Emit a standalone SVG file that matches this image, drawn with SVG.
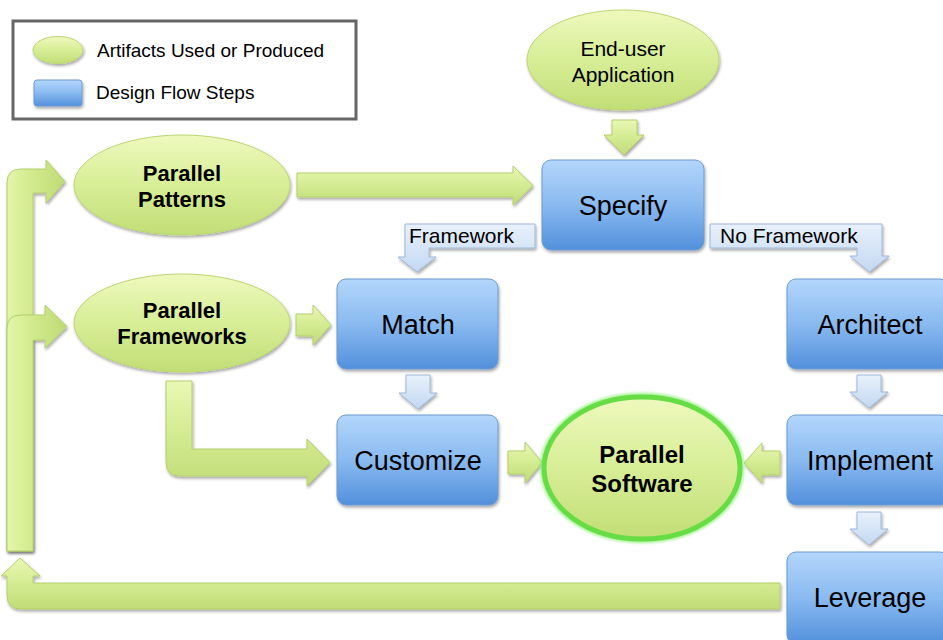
<svg xmlns="http://www.w3.org/2000/svg" width="943" height="640" viewBox="0 0 943 640">
  <defs>
    <linearGradient id="gBlue" x1="0" y1="0" x2="0" y2="1">
      <stop offset="0" stop-color="#b3d6fb"/>
      <stop offset="0.5" stop-color="#89baf0"/>
      <stop offset="1" stop-color="#5290dc"/>
    </linearGradient>
    <linearGradient id="gLightBlue" x1="0" y1="0" x2="0" y2="1">
      <stop offset="0" stop-color="#e8f1fc"/>
      <stop offset="1" stop-color="#c3d8f1"/>
    </linearGradient>
    <linearGradient id="gGreen" x1="0" y1="0" x2="0" y2="1">
      <stop offset="0" stop-color="#eef9bd"/>
      <stop offset="0.45" stop-color="#d9ef9a"/>
      <stop offset="1" stop-color="#c2de76"/>
    </linearGradient>
    <linearGradient id="gArrowH" x1="0" y1="0" x2="0" y2="1">
      <stop offset="0" stop-color="#eaf8b4"/>
      <stop offset="0.5" stop-color="#d3eb91"/>
      <stop offset="1" stop-color="#c1dc77"/>
    </linearGradient>
    <linearGradient id="gArrowV" x1="0" y1="0" x2="1" y2="0">
      <stop offset="0" stop-color="#e4f5a9"/>
      <stop offset="0.5" stop-color="#cfe88a"/>
      <stop offset="1" stop-color="#bfdb74"/>
    </linearGradient>
    <filter id="shadow" x="-10%" y="-10%" width="130%" height="130%">
      <feDropShadow dx="1" dy="2" stdDeviation="1.6" flood-color="#000" flood-opacity="0.35"/>
    </filter>
    <filter id="glow" x="-10%" y="-10%" width="120%" height="120%">
      <feGaussianBlur stdDeviation="1.2"/>
    </filter>
  </defs>
  <style>
    .box { fill: url(#gBlue); stroke: #6d9ad2; stroke-width: 1; filter: url(#shadow); }
    .oval { fill: url(#gGreen); stroke: #bcd672; stroke-width: 1; filter: url(#shadow); }
    .garrow { fill: url(#gArrowH); stroke: #b4cf6c; stroke-width: 1; filter: url(#shadow); }
    .garrowv { fill: url(#gArrowV); stroke: #b4cf6c; stroke-width: 1; filter: url(#shadow); }
    .barrow { fill: url(#gLightBlue); stroke: #9fb8d8; stroke-width: 1; filter: url(#shadow); }
    .lbl { font-family: "Liberation Sans", Arial, sans-serif; fill: #000; }
    .step { font-size: 27px; text-anchor: middle; }
    .bold { font-weight: bold; font-size: 22px; text-anchor: middle; }
    .big { font-size: 24px; }
  </style>

  <rect width="943" height="640" fill="#ffffff"/>

  <!-- legend -->
  <g id="legend">
    <rect x="13" y="21" width="343" height="98" fill="#fff" stroke="#666" stroke-width="3"/>
    <ellipse cx="58" cy="50" rx="25" ry="13.5" class="oval"/>
    <text x="97" y="57" class="lbl" font-size="19">Artifacts Used or Produced</text>
    <rect x="34" y="80" width="48" height="26" rx="3" class="box"/>
    <text x="96" y="99" class="lbl" font-size="19">Design Flow Steps</text>
  </g>

  <!-- connectors -->
  <g id="connectors">
    <!-- feedback loop on the left -->
    <path class="garrowv" d="M7,551 V183 Q7,169 21,169 H46 V160 L65,181.5 L46,203 V193 H33 V551 Z"/>
    <path class="garrowv" d="M7,551 V329 Q7,315 21,315 H45 V305 L67,326.5 L45,348 V340 H33 V551 Z"/>
    <path class="garrow" d="M780,583 H33 V576 H40 L20,558 L1,576 H7 V595 Q7,609 21,609 H780 Z"/>
    <!-- artifacts into steps -->
    <path class="garrow" d="M297,173 H513 V166 L533,185.5 L513,205 V197 H297 Z"/>
    <path class="garrow" d="M612,120 H637 V135 H644 L624,155 L604,135 H612 Z"/>
    <path class="garrow" d="M296,314 H313 V305 L331,325 L313,345 V336 H296 Z"/>
    <path class="garrow" d="M166,381 H192 V449 H307 V439 L330,462.5 L307,486 V476 H180 Q166,476 166,462 Z"/>
    <path class="garrow" d="M508,451 H525 V442 L542,462.5 L525,483 V474 H508 Z"/>
    <path class="garrow" d="M780,451 H762 V443 L744,463 L762,483 V475 H780 Z"/>
    <!-- step to step -->
    <path class="barrow" d="M405,224 H535 V248 H429 V257 H436 L417,272 L398,257 H405 Z"/>
    <text x="409" y="243" class="lbl" font-size="21">Framework</text>
    <path class="barrow" d="M710,224 H882 V256 H889 L869.5,272 L850,256 H857 V248 H710 Z"/>
    <text x="720" y="243" class="lbl" font-size="21">No Framework</text>
    <path class="barrow" d="M406,375 H430 V393 H437 L418,409 L399,393 H406 Z"/>
    <path class="barrow" d="M857,375 H881 V392 H888 L869,408 L850,392 H857 Z"/>
    <path class="barrow" d="M857,512 H881 V529 H888 L869,545 L850,529 H857 Z"/>
  </g>

  <!-- artifacts -->
  <g id="end-user-application">
    <ellipse cx="623" cy="60" rx="96" ry="50" class="oval"/>
    <text x="623" y="56" class="lbl" font-size="21" text-anchor="middle">End-user</text>
    <text x="623" y="82" class="lbl" font-size="21" text-anchor="middle">Application</text>
  </g>
  <g id="parallel-patterns">
    <ellipse cx="182" cy="185" rx="108" ry="50" class="oval"/>
    <text x="182" y="181" class="lbl bold">Parallel</text>
    <text x="182" y="207" class="lbl bold">Patterns</text>
  </g>
  <g id="parallel-frameworks">
    <ellipse cx="182" cy="323" rx="108" ry="49" class="oval"/>
    <text x="182" y="318" class="lbl bold">Parallel</text>
    <text x="182" y="344" class="lbl bold">Frameworks</text>
  </g>
  <g id="parallel-software">
    <ellipse cx="642" cy="468" rx="98" ry="71" fill="none" stroke="#8ff07a" stroke-width="9" filter="url(#glow)" opacity="0.7"/>
    <ellipse cx="642" cy="468" rx="98" ry="71" fill="url(#gGreen)" stroke="#66dd44" stroke-width="5"/>
    <text x="642" y="463" class="lbl bold big">Parallel</text>
    <text x="642" y="492" class="lbl bold big">Software</text>
  </g>

  <!-- design flow steps -->
  <g id="specify">
    <rect x="542" y="160" width="162" height="90" rx="9" class="box"/>
    <text x="623" y="215" class="lbl step">Specify</text>
  </g>
  <g id="match">
    <rect x="337" y="279" width="161" height="90" rx="9" class="box"/>
    <text x="418" y="334" class="lbl step">Match</text>
  </g>
  <g id="customize">
    <rect x="337" y="415" width="161" height="90" rx="9" class="box"/>
    <text x="418" y="470" class="lbl step">Customize</text>
  </g>
  <g id="architect">
    <rect x="787" y="279" width="162" height="90" rx="9" class="box"/>
    <text x="870" y="334" class="lbl step">Architect</text>
  </g>
  <g id="implement">
    <rect x="787" y="415" width="162" height="90" rx="9" class="box"/>
    <text x="870" y="470" class="lbl step">Implement</text>
  </g>
  <g id="leverage">
    <rect x="787" y="552" width="162" height="92" rx="9" class="box"/>
    <text x="870" y="607" class="lbl step">Leverage</text>
  </g>
</svg>
